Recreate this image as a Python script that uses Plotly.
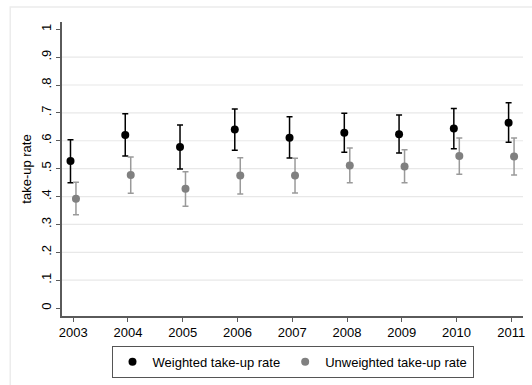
import plotly.graph_objects as go

years = [2003, 2004, 2005, 2006, 2007, 2008, 2009, 2010, 2011]

weighted = [0.527, 0.621, 0.578, 0.640, 0.611, 0.629, 0.623, 0.644, 0.665]
weighted_hi = [0.604, 0.697, 0.657, 0.714, 0.686, 0.699, 0.692, 0.716, 0.736]
weighted_lo = [0.449, 0.545, 0.499, 0.566, 0.538, 0.559, 0.556, 0.571, 0.595]

unweighted = [0.392, 0.477, 0.428, 0.475, 0.475, 0.511, 0.508, 0.545, 0.544]
unweighted_hi = [0.451, 0.542, 0.489, 0.539, 0.537, 0.574, 0.568, 0.610, 0.610]
unweighted_lo = [0.335, 0.412, 0.365, 0.409, 0.413, 0.449, 0.449, 0.480, 0.477]

ytick_vals = [0, 0.1, 0.2, 0.3, 0.4, 0.5, 0.6, 0.7, 0.8, 0.9, 1.0]
ytick_text = ["0", ".1", ".2", ".3", ".4", ".5", ".6", ".7", ".8", ".9", "1"]
grid_vals = [0.1, 0.2, 0.3, 0.4, 0.5, 0.6, 0.7, 0.8, 0.9]

shift = 0.05
FONT = "Liberation Sans, Arial, sans-serif"

fig = go.Figure()

fig.add_trace(go.Scatter(
    x=[y - shift for y in years], y=weighted,
    mode="markers", name="Weighted take-up rate",
    marker=dict(color="black", size=8),
    error_y=dict(type="data", symmetric=False,
                 array=[h - v for h, v in zip(weighted_hi, weighted)],
                 arrayminus=[v - l for v, l in zip(weighted, weighted_lo)],
                 color="black", thickness=1.5, width=3),
))

fig.add_trace(go.Scatter(
    x=[y + shift for y in years], y=unweighted,
    mode="markers", name="Unweighted take-up rate",
    marker=dict(color="#808080", size=8),
    error_y=dict(type="data", symmetric=False,
                 array=[h - v for h, v in zip(unweighted_hi, unweighted)],
                 arrayminus=[v - l for v, l in zip(unweighted, unweighted_lo)],
                 color="#9a9a9a", thickness=1.5, width=3),
))

shapes = [
    dict(type="line", xref="paper", yref="y", x0=0, x1=1, y0=g, y1=g,
         line=dict(color="#e8e8e8", width=1.2), layer="below")
    for g in grid_vals
]
# light frame around the whole graph region
shapes.append(dict(type="rect", xref="paper", yref="paper",
                   x0=-52 / 463, x1=1.2, y0=-1.0, y1=1 + 15 / 296,
                   line=dict(color="#ececec", width=1.5), layer="below"))

fig.update_layout(
    width=532, height=385,
    margin=dict(l=62, r=7, t=22, b=67),
    paper_bgcolor="white", plot_bgcolor="white",
    font=dict(family=FONT, size=13, color="black"),
    showlegend=True,
    legend=dict(orientation="h", x=0.5, xanchor="center", y=-0.101, yanchor="top",
                bordercolor="#555555", borderwidth=1, font=dict(size=13),
                itemwidth=30),
    shapes=shapes,
    xaxis=dict(range=[2002.795, 2011.213], tickvals=years,
               ticktext=[str(y) for y in years],
               showgrid=False, zeroline=False, showline=True,
               linecolor="#5a5a5a", linewidth=1.5,
               ticks="outside", ticklen=4, tickcolor="#5a5a5a",
               tickfont=dict(size=13)),
    yaxis=dict(range=[-0.0285, 1.026], tickvals=ytick_vals, ticktext=ytick_text,
               tickangle=-90, showgrid=False, zeroline=False, showline=True,
               linecolor="#5a5a5a", linewidth=1.5,
               ticks="outside", ticklen=4, tickcolor="#5a5a5a",
               tickfont=dict(size=13),
               title=dict(text="take-up rate", font=dict(size=13), standoff=4)),
)

fig.write_html("out.html")
